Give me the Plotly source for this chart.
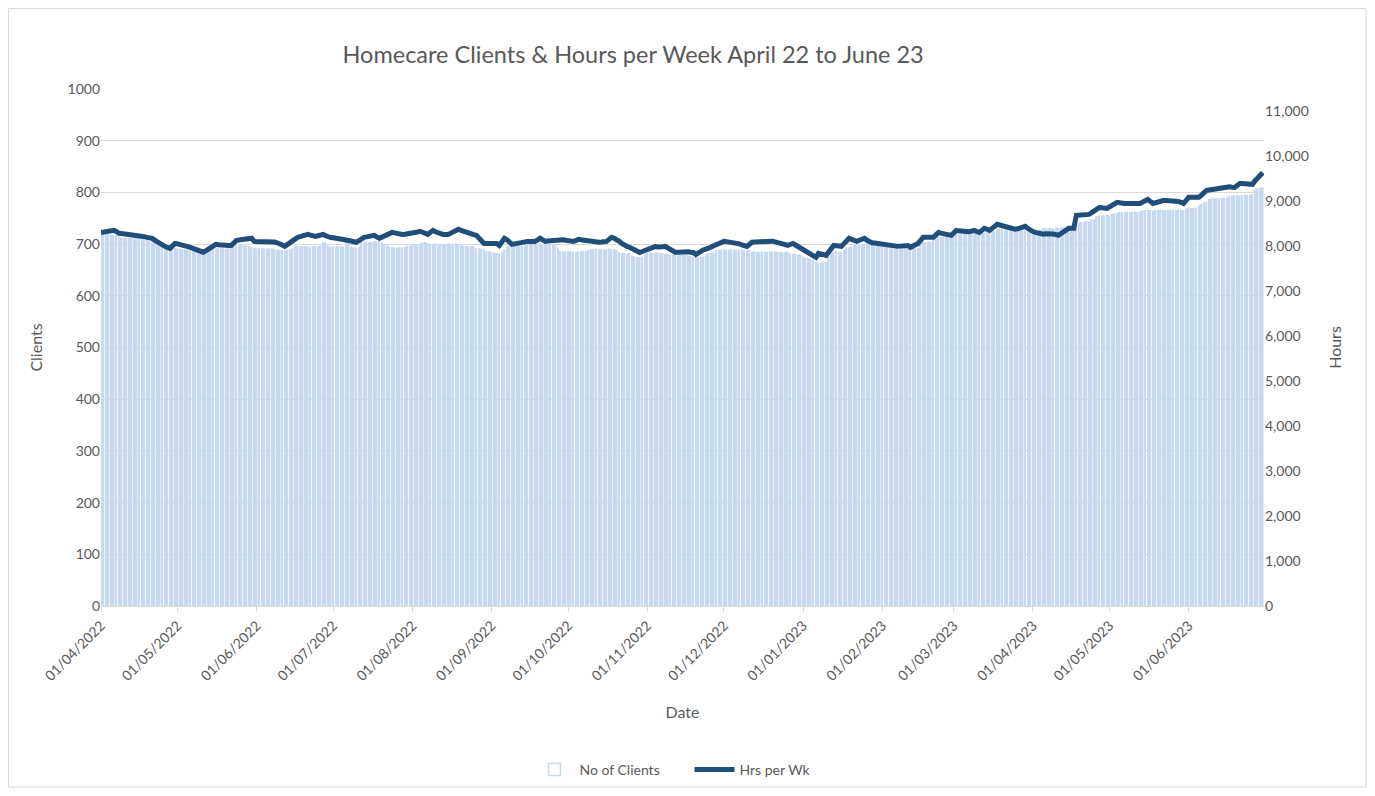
import pandas as pd
import plotly.graph_objects as go

# daily values, 01/04/2022 .. 30/06/2023
start_date = '2022-04-01'

clients = [
    720, 720, 719, 719, 718, 718, 717, 714, 713, 713,
    712, 712, 712, 711, 711, 710, 710, 709, 708, 706,
    705, 703, 700, 697, 695, 694, 694, 693, 694, 693,
    692, 691, 690, 690, 689, 688, 687, 686, 685, 685,
    685, 686, 688, 690, 692, 692, 693, 692, 692, 691,
    692, 694, 696, 698, 698, 699, 698, 698, 697, 694,
    692, 692, 693, 692, 692, 691, 692, 692, 690, 689,
    689, 688, 689, 689, 690, 692, 698, 697, 696, 696,
    697, 696, 695, 696, 697, 696, 697, 704, 703, 697,
    696, 696, 695, 696, 696, 696, 704, 703, 695, 694,
    694, 695, 704, 704, 705, 704, 704, 705, 706, 708,
    704, 700, 698, 696, 694, 694, 693, 694, 694, 695,
    697, 697, 699, 700, 700, 701, 703, 704, 702, 700,
    700, 701, 700, 700, 699, 700, 701, 700, 700, 701,
    700, 699, 697, 697, 696, 697, 696, 692, 692, 691,
    690, 687, 686, 685, 684, 683, 683, 685, 690, 696,
    697, 697, 698, 697, 698, 697, 700, 700, 701, 700,
    701, 700, 701, 700, 700, 701, 700, 699, 700, 694,
    687, 686, 686, 687, 686, 686, 685, 686, 686, 687,
    686, 689, 690, 690, 691, 690, 690, 689, 690, 691,
    690, 690, 689, 684, 683, 683, 682, 683, 678, 676,
    675, 675, 676, 680, 683, 684, 683, 683, 684, 683,
    683, 682, 681, 680, 679, 679, 680, 679, 679, 679,
    678, 677, 675, 675, 674, 675, 676, 680, 683, 683,
    684, 688, 689, 689, 690, 689, 689, 690, 689, 689,
    689, 690, 689, 688, 688, 685, 686, 685, 685, 686,
    685, 685, 686, 685, 686, 685, 685, 684, 685, 685,
    682, 681, 681, 680, 680, 676, 673, 673, 672, 670,
    666, 665, 665, 666, 667, 678, 685, 685, 686, 685,
    685, 690, 694, 694, 695, 700, 700, 701, 700, 700,
    701, 700, 700, 699, 700, 700, 700, 699, 695, 692,
    692, 691, 692, 692, 693, 692, 691, 692, 692, 692,
    693, 700, 704, 704, 705, 705, 710, 713, 714, 714,
    715, 714, 714, 716, 721, 721, 720, 721, 722, 721,
    721, 722, 721, 722, 721, 722, 722, 725, 726, 725,
    726, 729, 729, 730, 729, 728, 729, 729, 730, 729,
    727, 727, 727, 723, 723, 722, 723, 723, 729, 731,
    731, 730, 731, 731, 732, 731, 732, 733, 733, 733,
    734, 738, 741, 742, 743, 743, 744, 743, 748, 748,
    754, 756, 756, 756, 757, 756, 758, 759, 760, 762,
    762, 762, 763, 762, 762, 763, 762, 763, 765, 766,
    766, 766, 765, 766, 766, 767, 766, 766, 766, 767,
    766, 766, 767, 766, 766, 769, 770, 770, 770, 771,
    775, 778, 781, 782, 787, 789, 789, 788, 789, 790,
    789, 790, 793, 794, 795, 795, 794, 795, 796, 795,
    796, 797, 806, 808, 809, 810,
]

hours = [
    8310, 8315, 8320, 8325, 8340, 8355, 8330, 8290, 8285, 8280,
    8270, 8260, 8255, 8250, 8240, 8235, 8225, 8215, 8200, 8195,
    8180, 8140, 8100, 8060, 8020, 8000, 7975, 7955, 8010, 8065,
    8055, 8045, 8030, 8020, 7995, 7975, 7950, 7930, 7910, 7890,
    7870, 7900, 7930, 7955, 8000, 8045, 8035, 8025, 8020, 8020,
    8020, 8020, 8075, 8130, 8140, 8150, 8160, 8165, 8175, 8180,
    8110, 8110, 8105, 8110, 8115, 8110, 8105, 8110, 8095, 8080,
    8065, 8030, 8000, 8045, 8090, 8130, 8165, 8200, 8215, 8235,
    8250, 8265, 8250, 8235, 8220, 8235, 8250, 8265, 8235, 8200,
    8195, 8190, 8185, 8180, 8165, 8155, 8140, 8130, 8115, 8100,
    8090, 8125, 8165, 8200, 8210, 8225, 8235, 8245, 8210, 8180,
    8205, 8235, 8260, 8285, 8310, 8300, 8285, 8275, 8265, 8270,
    8275, 8285, 8290, 8305, 8320, 8335, 8310, 8290, 8265, 8310,
    8355, 8325, 8295, 8265, 8265, 8265, 8265, 8295, 8325, 8355,
    8380, 8355, 8330, 8310, 8295, 8280, 8260, 8245, 8185, 8125,
    8065, 8065, 8065, 8065, 8065, 8065, 8020, 8100, 8180, 8145,
    8110, 8045, 8055, 8065, 8090, 8110, 8110, 8110, 8110, 8110,
    8110, 8145, 8180, 8145, 8110, 8120, 8125, 8135, 8140, 8150,
    8155, 8145, 8135, 8125, 8120, 8110, 8130, 8155, 8145, 8135,
    8120, 8110, 8105, 8100, 8095, 8090, 8095, 8100, 8110, 8155,
    8200, 8180, 8155, 8110, 8065, 8020, 8000, 7980, 7950, 7920,
    7895, 7865, 7885, 7910, 7940, 7970, 8000, 7995, 7985, 7980,
    7990, 8000, 7965, 7930, 7900, 7865, 7870, 7875, 7885, 7890,
    7880, 7870, 7865, 7820, 7865, 7910, 7925, 7940, 7955, 7985,
    8015, 8045, 8065, 8090, 8110, 8105, 8100, 8095, 8090, 8070,
    8055, 8035, 8020, 8000, 8045, 8090, 8095, 8100, 8110, 8115,
    8120, 8125, 8130, 8115, 8100, 8090, 8075, 8055, 8040, 8020,
    8040, 8065, 8030, 7995, 7960, 7925, 7890, 7855, 7820, 7790,
    7755, 7845, 7830, 7815, 7800, 7875, 7945, 8020, 8015, 8005,
    8000, 8060, 8120, 8180, 8155, 8130, 8110, 8135, 8160, 8180,
    8135, 8090, 8080, 8075, 8065, 8055, 8045, 8035, 8030, 8020,
    8015, 8010, 8000, 8005, 8010, 8015, 8020, 7980, 8010, 8035,
    8065, 8130, 8200, 8200, 8200, 8200, 8200, 8255, 8310, 8295,
    8285, 8270, 8255, 8245, 8300, 8355, 8345, 8335, 8320, 8310,
    8325, 8340, 8355, 8330, 8310, 8355, 8400, 8380, 8355, 8400,
    8445, 8490, 8475, 8455, 8440, 8420, 8405, 8395, 8380, 8390,
    8400, 8425, 8445, 8400, 8355, 8330, 8310, 8290, 8265, 8270,
    8280, 8285, 8290, 8275, 8260, 8245, 8285, 8325, 8365, 8400,
    8400, 8400, 8690, 8690, 8690, 8690, 8690, 8710, 8750, 8790,
    8830, 8865, 8860, 8850, 8845, 8880, 8910, 8945, 8980, 8970,
    8955, 8955, 8955, 8955, 8955, 8955, 8955, 8955, 8985, 9015,
    9045, 9000, 8955, 8970, 8990, 9005, 9020, 9020, 9020, 9020,
    9020, 9020, 9000, 8980, 8955, 9020, 9090, 9090, 9090, 9090,
    9090, 9140, 9195, 9245, 9255, 9265, 9280, 9290, 9300, 9315,
    9325, 9335, 9325, 9315, 9310, 9355, 9400, 9400, 9400, 9400,
    9400, 9380, 9460, 9535, 9590, 9640,
]

assert len(clients) == len(hours) == 456
dates = pd.date_range(start_date, periods=len(clients), freq='D')

tick_dates = pd.date_range('2022-04-01', '2023-06-01', freq='MS')

TEXT = '#595959'
GRID = '#d9d9d9'
BAR = '#c6d9f1'
LINE = '#1f4e79'
FONT = 'Lato, Open Sans, sans-serif'

fig = go.Figure()

fig.add_trace(go.Bar(
    x=dates,
    y=clients,
    name='No of Clients',
    marker=dict(color=BAR, line=dict(width=0)),
    showlegend=False,
    hovertemplate='%{x|%d/%m/%Y}<br>Clients: %{y}<extra></extra>'
))

# legend swatch as drawn in the original: white box, light blue edge
fig.add_trace(go.Bar(
    x=[None], y=[None],
    name='No of Clients',
    marker=dict(color='white', line=dict(color=BAR, width=1.5)),
    showlegend=True
))

fig.add_trace(go.Scatter(
    x=dates,
    y=hours,
    name='Hrs per Wk',
    mode='lines',
    yaxis='y2',
    line=dict(color=LINE, width=5),
    hovertemplate='%{x|%d/%m/%Y}<br>Hours: %{y:,}<extra></extra>'
))

fig.update_layout(
    width=1359,
    height=780,
    margin=dict(l=93, r=103, t=81, b=182, autoexpand=False),
    paper_bgcolor='white',
    plot_bgcolor='white',
    font=dict(family=FONT, color=TEXT, size=14),
    title=dict(
        text='Homecare Clients & Hours per Week April 22 to June 23',
        x=0.46, xanchor='center',
        y=0.94, yanchor='middle',
        font=dict(size=23.5, color=TEXT, family=FONT)
    ),
    bargap=0.35,
    xaxis=dict(
        type='date',
        automargin=False,
        range=[pd.Timestamp('2022-04-01'), pd.Timestamp('2023-06-30 12:00')],
        tickvals=tick_dates,
        tickformat='%d/%m/%Y',
        tickangle=-45,
        ticks='outside',
        ticklen=5,
        tickcolor=GRID,
        showgrid=False,
        showline=True,
        linecolor=GRID,
        linewidth=1,
        tickfont=dict(size=14, color=TEXT),
        title=dict(text='Date', font=dict(size=16, color=TEXT), standoff=24)
    ),
    yaxis=dict(
        automargin=False,
        range=[0, 1000],
        dtick=100,
        showgrid=True,
        gridcolor=GRID,
        gridwidth=1,
        zeroline=False,
        ticks='',
        tickfont=dict(size=14, color=TEXT),
        title=dict(text='Clients', font=dict(size=16, color=TEXT), standoff=20)
    ),
    yaxis2=dict(
        automargin=False,
        overlaying='y',
        side='right',
        range=[0, 11500],
        dtick=1000,
        tickformat=',d',
        showgrid=False,
        zeroline=False,
        ticks='',
        tickfont=dict(size=14, color=TEXT),
        title=dict(text='Hours', font=dict(size=16, color=TEXT), standoff=22)
    ),
    legend=dict(
        orientation='h',
        x=0.506, xanchor='center',
        y=-0.317, yanchor='middle',
        bgcolor='rgba(0,0,0,0)',
        font=dict(size=14, color=TEXT),
        entrywidth=105,
        itemwidth=40,
        traceorder='normal'
    ),
    shapes=[dict(
        type='rect', xref='paper', yref='paper',
        x0=-0.0795, x1=1.0877, y0=-0.350, y1=1.1557,
        line=dict(color=GRID, width=1)
    )]
)

fig.write_html('out.html')
